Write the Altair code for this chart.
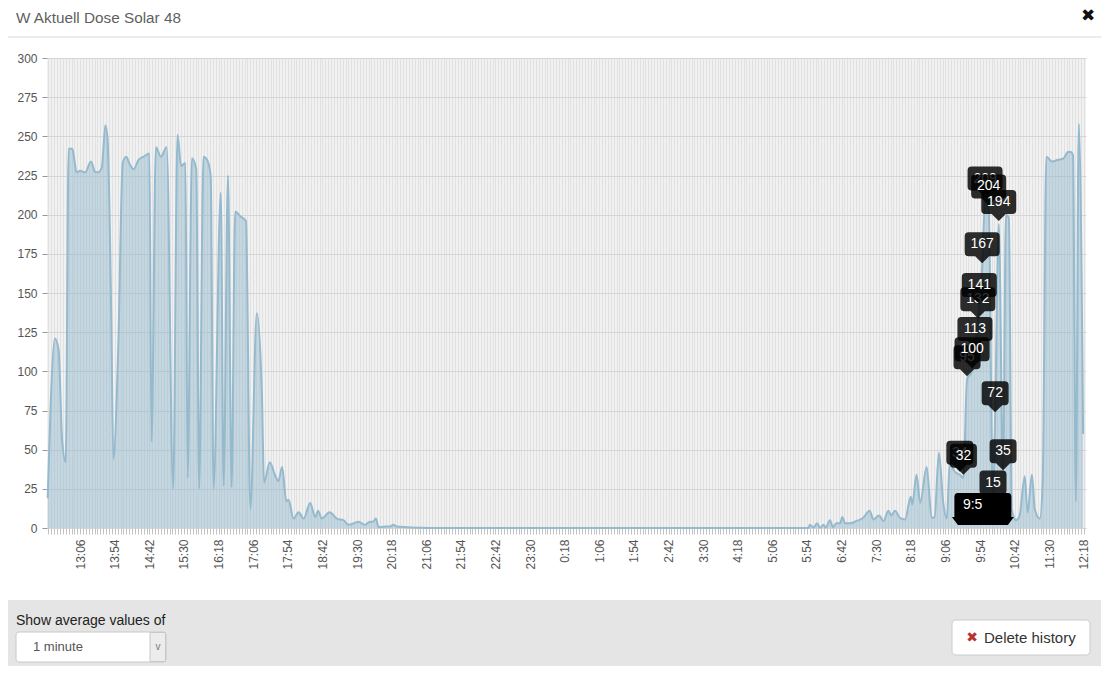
import json
import altair as alt
import pandas as pd

# ---------------- data ----------------
times = ["12:21","12:31","12:36","12:41","12:46","12:50","12:55","12:57","13:01","13:06",
         "13:13","13:21","13:27","13:31","13:36","13:41","13:44","13:49","13:52","13:59",
         "14:05","14:10","14:14","14:20","14:27","14:34","14:42","14:45","14:51","14:58",
         "15:06","15:15","15:21","15:26","15:32","15:35","15:41","15:47","15:51","15:57",
         "16:02","16:07","16:11","16:21","16:25","16:31","16:36","16:41","16:48","16:56",
         "17:02","17:11","17:18","17:21","17:29","17:36","17:41","17:46","17:52","17:55",
         "18:02","18:09","18:16","18:25","18:32","18:36","18:41","18:52","19:02","19:11",
         "19:18","19:32","19:41","19:48","19:52","19:56","20:00","20:11","20:16","20:20",
         "20:25","20:39","20:57",
         "21:30","22:30","23:30","0:30","1:30","2:30","3:30","4:30","5:30",
         "5:56","5:58","6:03","6:08","6:12","6:17","6:20","6:26","6:30","6:35",
         "6:40","6:43","6:47","6:54","7:03","7:12","7:21","7:26","7:34","7:40",
         "7:47","7:51","7:56","8:03","8:10","8:18","8:20","8:26","8:31","8:40",
         "8:47","8:51","8:57","9:03","9:08","9:12","9:19","9:26","9:31","9:36",
         "9:43","9:47","9:51","9:53","9:57","10:01","10:06","10:12","10:15","10:20",
         "10:26","10:30","10:34","10:38","10:44","10:49","10:56","11:00","11:06","11:10",
         "11:17","11:21","11:26","11:34","11:42","11:50","11:56","12:00","12:03","12:07",
         "12:11","12:17"]
values = [19,121,114,56,42,242,242,238,227,228,
          227,234,227,227,230,257,248,139,44,118,
          233,237,233,229,235,237,239,55,243,237,
          243,25,251,231,233,32,236,229,25,237,
          235,225,25,214,27,225,26,202,199,196,
          12,137,86,29,42,34,30,39,17,18,
          6,10,6,16,7,11,6,10,6,5,
          2,4,2,4,4,6,0.5,1,1,2,
          1,0.5,0.2,
          0,0,0,0,0,0,0,0,0,
          0,2,0.3,3,0.2,2,0.3,5,0.5,3,
          3,7,3,3,4.5,6.5,11,5.5,8,4.5,
          11,8,11,6.5,5.5,20,15,34,16,39,
          6.5,7,48,16,6,41,36,34,32,95,
          100,113,132,141,167,209,204,15,72,194,
          35,200,198,12,5,8,33,10,34,12,
          6,30,237,234,235,236,240,240,238,17,
          258,60]

tick_labels = ["13:06","13:54","14:42","15:30","16:18","17:06","17:54","18:42","19:30","20:18",
               "21:06","21:54","22:42","23:30","0:18","1:06","1:54","2:42","3:30","4:18",
               "5:06","5:54","6:42","7:30","8:18","9:06","9:54","10:42","11:30","12:18"]
y_ticks = [0, 25, 50, 75, 100, 125, 150, 175, 200, 225, 250, 275, 300]

callout_times = ["9:26","9:31","9:36","9:43","9:47","9:51","9:53","9:57","10:01","10:06",
                 "10:12","10:15","10:20","10:26"]
callout_values = [34,32,95,100,113,132,141,167,209,204,15,72,194,35]
callout_layer = ["back","front","back","front","front","back","front","front","back","front",
                 "front","front","front","front"]

time_tip_times = ["9:58"]
time_tip_values = [0]
time_tip_text = ["9:5"]


def to_minutes(seq):
    """clock strings -> minutes after 12:00 of day 1 (wrapping past midnight)"""
    out, prev = [], 0
    for s in seq:
        h, m = map(int, s.split(":"))
        t = h * 60 + m - 720
        while t < prev:
            t += 1440
        out.append(t)
        prev = t
    return out


df = pd.DataFrame({"t": to_minutes(times), "v": values})
cdf = pd.DataFrame({
    "t": to_minutes(callout_times),
    "v": callout_values,
    "label": [str(v) for v in callout_values],
    "layer": callout_layer,
    "kind": ["w3" if v >= 100 else "w2" for v in callout_values],
})
tdf = pd.DataFrame({"t": to_minutes(time_tip_times), "v": time_tip_values, "label": time_tip_text})

tick_pos = to_minutes(tick_labels)
grid_vals = list(range(22, 1461, 4))
label_expr = (f"indexof({json.dumps(tick_pos)}, datum.value) < 0 ? '' : "
              f"{json.dumps(tick_labels)}[indexof({json.dumps(tick_pos)}, datum.value)]")

FONT = "Liberation Sans"

xscale = alt.Scale(domain=[20, 1461], nice=False, zero=False)
yscale = alt.Scale(domain=[0, 300], nice=False)

xaxis = alt.Axis(values=grid_vals, labelExpr=label_expr, labelAngle=270, labelOverlap=False,
                 labelFlush=False, labelBound=False, grid=True, gridColor="#e1e1e1",
                 gridWidth=1, tickColor="#c4c4c4", tickSize=6, domain=False,
                 labelFont=FONT, labelFontSize=12, labelColor="#555555", labelPadding=5,
                 title=None)
yaxis = alt.Axis(values=y_ticks, grid=True, gridColor="#d6d6d6", tickColor="#999999",
                 tickSize=5, domain=False, labelFont=FONT, labelFontSize=12,
                 labelColor="#555555", labelPadding=5, title=None)

X = alt.X("t:Q", scale=xscale, axis=xaxis)
Y = alt.Y("v:Q", scale=yscale, axis=yaxis)

base = alt.Chart(df).encode(x=X, y=Y)
area = base.mark_area(interpolate="monotone", fill="#8fb5ca", fillOpacity=0.45)
line = base.mark_line(interpolate="monotone", color="#95b9cd", strokeWidth=2)

path3 = ("M-13.5,-34 H13.5 Q17.5,-34 17.5,-30 V-14 Q17.5,-10 13.5,-10 H7 L0,-3 L-7,-10 "
         "H-13.5 Q-17.5,-10 -17.5,-14 V-30 Q-17.5,-34 -13.5,-34 Z")
path2 = ("M-9.5,-34 H9.5 Q13.5,-34 13.5,-30 V-14 Q13.5,-10 9.5,-10 H7 L0,-3 L-7,-10 "
         "H-9.5 Q-13.5,-10 -13.5,-14 V-30 Q-13.5,-34 -9.5,-34 Z")
path_time = ("M-25,-35 H25 Q28.5,-35 28.5,-31 V-11 H31 L25,-3 H-25 L-31,-11 H-28.5 "
             "V-31 Q-28.5,-35 -25,-35 Z")

shape_enc = alt.Shape("kind:N", scale=alt.Scale(domain=["w3", "w2"], range=[path3, path2]),
                      legend=None)


def callout_layers(which):
    c = alt.Chart(cdf).transform_filter(alt.datum.layer == which).encode(x=X, y=Y)
    box = c.mark_point(filled=True, size=4, color="black", opacity=0.82,
                       strokeWidth=0).encode(shape=shape_enc)
    txt = c.mark_text(color="white", fontSize=14, font=FONT, dy=-22,
                      baseline="middle").encode(text="label:N")
    return [box, txt]


tc = alt.Chart(tdf).encode(x=X, y=Y)
time_box = tc.mark_point(filled=True, size=4, color="black", opacity=1, strokeWidth=0,
                         shape=path_time)
time_txt = tc.mark_text(color="white", fontSize=14, font=FONT, dy=-23, dx=-20,
                        align="left", baseline="middle").encode(text="label:N")

# ---------------- dialog chrome (header, footer) ----------------
one = pd.DataFrame({"a": [0]})


def rect(x, x2, y, y2, **kw):
    return alt.Chart(one).mark_rect(**kw).encode(
        x=alt.value(x), x2=alt.value(x2), y=alt.value(y), y2=alt.value(y2))


def text(x, y, s, **kw):
    return alt.Chart(one).mark_text(**kw).encode(
        x=alt.value(x), y=alt.value(y), text=alt.value(s))


title = text(-31, -40, "W Aktuell Dose Solar 48", align="left", baseline="middle",
             fontSize=15.3, font=FONT, color="#5f5f5f")
header_line = rect(-39, 1054, -21.5, -20.5, color="#d9d9d9")
close_x = text(1041, -42, "✖", align="center", baseline="middle", fontSize=17,
               font="DejaVu Sans", color="#111111")
footer = rect(-39, 1054, 542, 610, color="#e5e5e5")
footer_lbl = text(-31, 563, "Show average values of", align="left", baseline="middle",
                  fontSize=14, font=FONT, color="#222222")
select_box = rect(-31, 119, 574, 604, color="white", stroke="#c8c8c8", strokeWidth=1,
                  cornerRadius=3)
select_btn = rect(103, 118.5, 574.5, 603.5, color="#ececec", stroke="#c8c8c8",
                  strokeWidth=1)
select_txt = text(-14, 589, "1 minute", align="left", baseline="middle", fontSize=13,
                  font=FONT, color="#555555")
select_chev = text(111, 589, "v", align="center", baseline="middle", fontSize=10,
                   font=FONT, color="#777777")
button = rect(905, 1043, 562, 597, color="white", stroke="#cccccc", strokeWidth=1,
              cornerRadius=4)
button_x = text(925, 579.5, "✖", align="center", baseline="middle", fontSize=14,
                font="DejaVu Sans", color="#b8332f")
button_txt = text(937, 579.5, "Delete history", align="left", baseline="middle",
                  fontSize=15, font=FONT, color="#333333")

layers = ([area, line] + callout_layers("back") + callout_layers("front") +
          [time_box, time_txt, title, header_line, close_x, footer, footer_lbl,
           select_box, select_btn, select_txt, select_chev, button, button_x, button_txt])

chart = alt.layer(*layers).properties(
    width=1039, height=470,
    padding={"left": 39, "top": 50, "right": 15, "bottom": 138},
    autosize=alt.AutoSizeParams(type="none"),
    background="white",
).configure_view(fill="#f1f1f1", stroke=None)

chart.save("out.html", embed_options={"renderer": "svg", "actions": False})
